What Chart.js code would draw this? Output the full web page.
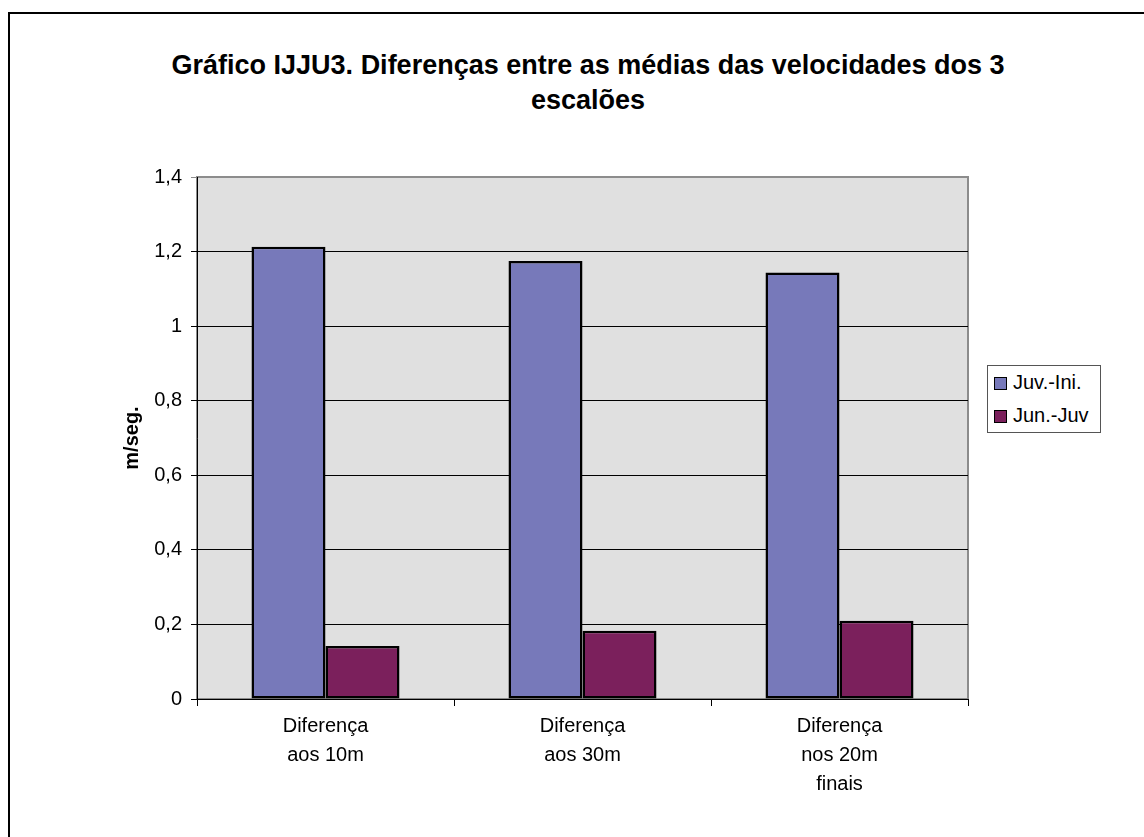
<!DOCTYPE html>
<html lang="pt">
<head>
    <meta charset="UTF-8">
    <title>Gráfico IJJU3</title>
    <script src="https://cdn.jsdelivr.net/npm/chart.js"></script>
    <style>
        body {
            margin: 0;
            background: #fff;
            font-family: "Liberation Sans", Arial, sans-serif;
        }
        .frame {
            position: absolute;
            left: 8px;
            top: 12px;
            width: 1200px;
            height: 900px;
            border-left: 2px solid #000;
            border-top: 2px solid #000;
        }
        .title {
            position: absolute;
            left: 88px;
            top: 48px;
            width: 1000px;
            text-align: center;
            font-weight: bold;
            font-size: 27px;
            line-height: 35px;
            color: #000;
        }
        canvas {
            position: absolute;
            left: 0;
            top: 0;
        }
        .legend {
            position: absolute;
            left: 987px;
            top: 365px;
            width: 114px;
            height: 68px;
            box-sizing: border-box;
            border: 1px solid #555;
            background: #fff;
            font-size: 20px;
        }
        .legend div {
            height: 33px;
            line-height: 33px;
            padding-left: 6px;
            white-space: nowrap;
        }
        .legend span {
            display: inline-block;
            width: 11px;
            height: 11px;
            border: 1.5px solid #000;
            margin-right: 6px;
            vertical-align: -1px;
        }
    </style>
</head>
<body>
    <div class="frame"></div>
    <div class="title">Gráfico IJJU3. Diferenças entre as médias das velocidades dos 3<br>escalões</div>
    <canvas id="chart" width="1144" height="837"></canvas>
    <div class="legend" id="legend"></div>

    <script>
        const categories = [
            ['Diferença', 'aos 10m'],
            ['Diferença', 'aos 30m'],
            ['Diferença', 'nos 20m', 'finais']
        ];
        const seriesNames = ['Juv.-Ini.', 'Jun.-Juv'];
        const juvIni = [1.213, 1.175, 1.144];
        const junJuv = [0.142, 0.183, 0.210];
        const colors = ['#7779BA', '#7B205C'];

        // legend as plain html
        const legend = document.getElementById('legend');
        seriesNames.forEach((name, i) => {
            const row = document.createElement('div');
            row.innerHTML = '<span style="background:' + colors[i] + '"></span>' + name;
            legend.appendChild(row);
        });

        // grey plot background + frame
        const plotBackground = {
            id: 'plotBackground',
            beforeDraw(chart) {
                const a = chart.chartArea;
                const c = chart.ctx;
                c.save();
                c.fillStyle = '#E0E0E0';
                c.fillRect(a.left, a.top, a.right - a.left, a.bottom - a.top);
                c.strokeStyle = '#8C8C8C';
                c.lineWidth = 2;
                c.strokeRect(a.left, a.top, a.right - a.left, a.bottom - a.top);
                c.restore();
            }
        };

        const fontName = '"Liberation Sans", Arial, sans-serif';

        new Chart(document.getElementById('chart'), {
            type: 'bar',
            data: {
                labels: categories,
                datasets: [{
                    label: seriesNames[0],
                    data: juvIni,
                    backgroundColor: colors[0],
                    borderColor: '#000',
                    borderWidth: 2.5,
                    borderSkipped: false
                }, {
                    label: seriesNames[1],
                    data: junJuv,
                    backgroundColor: colors[1],
                    borderColor: '#000',
                    borderWidth: 2.5,
                    borderSkipped: false
                }]
            },
            options: {
                responsive: false,
                animation: false,
                devicePixelRatio: 1,
                layout: {
                    padding: { left: 0, top: 177, right: 176, bottom: 38 }
                },
                datasets: {
                    bar: { barPercentage: 1, categoryPercentage: 0.576 }
                },
                plugins: {
                    legend: { display: false },
                    title: { display: false },
                    tooltip: { enabled: false }
                },
                scales: {
                    x: {
                        grid: {
                            drawOnChartArea: false,
                            drawTicks: true,
                            tickLength: 7,
                            color: '#000'
                        },
                        border: { display: true, color: '#000', width: 1 },
                        ticks: {
                            color: '#000',
                            padding: 6,
                            maxRotation: 0,
                            font: { family: fontName, size: 20, lineHeight: 1.45 }
                        },
                        afterFit(scale) { scale.height = 100; }
                    },
                    y: {
                        min: 0,
                        max: 1.4,
                        ticks: {
                            stepSize: 0.2,
                            color: '#000',
                            padding: 9,
                            font: { family: fontName, size: 20 },
                            callback: v => String(Number(v.toFixed(1))).replace('.', ',')
                        },
                        grid: {
                            tickLength: 6,
                            color: ctx => (ctx.tick && ctx.tick.value >= 1.39) ? '#8C8C8C' : '#000',
                            lineWidth: 1
                        },
                        border: { display: true, color: '#000', width: 1 },
                        title: {
                            display: true,
                            text: 'm/seg.',
                            color: '#000',
                            font: { family: fontName, size: 20, weight: 'bold' },
                            padding: { top: 120, bottom: 0 }
                        },
                        afterFit(scale) { scale.width = 197; }
                    }
                }
            },
            plugins: [plotBackground]
        });
    </script>
</body>
</html>
